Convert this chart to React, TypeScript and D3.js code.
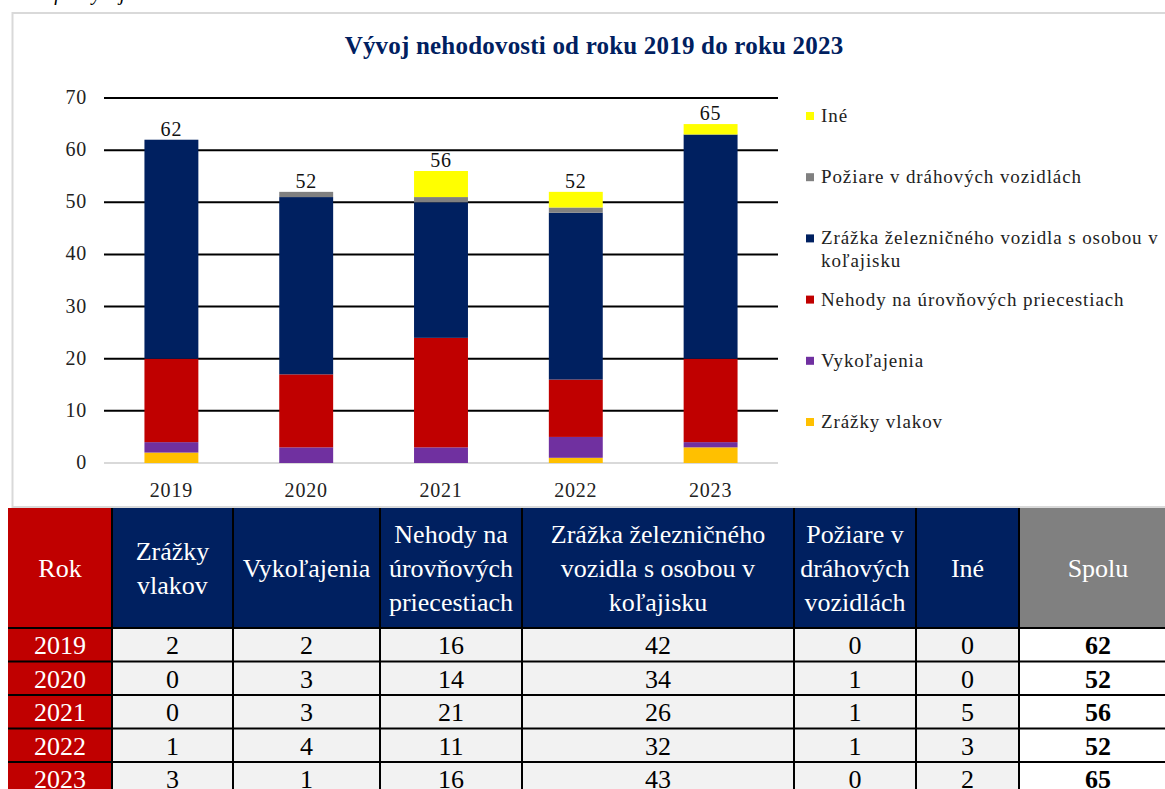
import { useEffect, useRef } from 'react';
import * as d3 from 'd3';

const years = ['2019', '2020', '2021', '2022', '2023'];
const zrazkyVlakov = [2, 0, 0, 1, 3];
const vykolajenia = [2, 3, 3, 4, 1];
const nehodyPriecestia = [16, 14, 21, 11, 16];
const zrazkaOsoba = [42, 34, 26, 32, 43];
const poziare = [0, 1, 1, 1, 0];
const ine = [0, 0, 5, 3, 2];
const yTicks = [0, 10, 20, 30, 40, 50, 60, 70];

const seriesNames = [
    'Zrážky vlakov',
    'Vykoľajenia',
    'Nehody na úrovňových priecestiach',
    'Zrážka železničného vozidla s osobou v koľajisku',
    'Požiare v dráhových vozidlách',
    'Iné',
];
const seriesValues = [zrazkyVlakov, vykolajenia, nehodyPriecestia, zrazkaOsoba, poziare, ine];
const seriesColors = ['#FFC000', '#7030A0', '#C00000', '#002060', '#808080', '#FFFF00'];

// legend labels (top to bottom), possibly wrapped
const legendLines = [
    ['Iné'],
    ['Požiare v dráhových vozidlách'],
    ['Zrážka železničného vozidla s osobou v', 'koľajisku'],
    ['Nehody na úrovňových priecestiach'],
    ['Vykoľajenia'],
    ['Zrážky vlakov'],
];

const headerLines = [
    ['Rok'],
    ['Zrážky', 'vlakov'],
    ['Vykoľajenia'],
    ['Nehody na', 'úrovňových', 'priecestiach'],
    ['Zrážka železničného', 'vozidla s osobou v', 'koľajisku'],
    ['Požiare v', 'dráhových', 'vozidlách'],
    ['Iné'],
    ['Spolu'],
];

const FONT = '"Liberation Serif", "Times New Roman", serif';

export default function App() {
    const svgRef = useRef<SVGSVGElement | null>(null);

    useEffect(() => {
        const W = 1165;
        const H = 789;
        const svg = d3.select(svgRef.current).attr('width', W).attr('height', H);
        svg.selectAll('*').remove();

        svg.append('rect').attr('width', W).attr('height', H).attr('fill', '#fff');

        // caption above the chart, cut off by the top edge
        svg.append('text')
            .attr('x', 22)
            .attr('y', 0)
            .style('font-family', FONT)
            .style('font-style', 'italic')
            .style('font-size', '20px')
            .text('Graf 1 Vývoj nehodovosti');

        // chart frame
        svg.append('rect')
            .attr('x', 12.5)
            .attr('y', 13)
            .attr('width', 1200)
            .attr('height', 494)
            .attr('fill', '#fff')
            .attr('stroke', '#d9d9d9')
            .attr('stroke-width', 2);

        // title
        svg.append('text')
            .attr('x', 594)
            .attr('y', 54)
            .attr('text-anchor', 'middle')
            .style('font-family', FONT)
            .style('font-weight', 'bold')
            .style('font-size', '25px')
            .style('letter-spacing', '0.2px')
            .attr('fill', '#002060')
            .text('Vývoj nehodovosti od roku 2019 do roku 2023');

        // plot area
        const x0 = 104;
        const x1 = 778;
        const x = d3.scaleBand().domain(years).range([x0, x1]).paddingInner(0.6).paddingOuter(0.3);
        const y = d3.scaleLinear().domain([0, 70]).range([463, 98]);

        // gridlines
        svg.append('g')
            .selectAll('line')
            .data(yTicks)
            .enter()
            .append('line')
            .attr('x1', x0)
            .attr('x2', x1)
            .attr('y1', (d) => y(d))
            .attr('y2', (d) => y(d))
            .attr('stroke', (d) => (d === 0 ? '#d9d9d9' : '#000'))
            .attr('stroke-width', 2);

        const axisText = (sel: any) =>
            sel
                .style('font-family', FONT)
                .style('font-size', '20px')
                .style('letter-spacing', '0.8px')
                .attr('fill', '#222');

        // y tick labels
        svg.append('g')
            .selectAll('text')
            .data(yTicks)
            .enter()
            .append('text')
            .attr('x', 87)
            .attr('y', (d) => y(d) + 6)
            .attr('text-anchor', 'end')
            .call(axisText)
            .text((d) => d);

        // x labels
        svg.append('g')
            .selectAll('text')
            .data(years)
            .enter()
            .append('text')
            .attr('x', (d) => (x(d) as number) + x.bandwidth() / 2)
            .attr('y', 497)
            .attr('text-anchor', 'middle')
            .call(axisText)
            .text((d) => d);

        // stacked bars
        const rows = years.map((yr, i) => {
            const r: Record<string, number | string> = { year: yr };
            seriesNames.forEach((s, k) => (r[s] = seriesValues[k][i]));
            return r;
        });
        const stacked = d3.stack<Record<string, number | string>>().keys(seriesNames)(rows as any);

        stacked.forEach((layer, k) => {
            svg.append('g')
                .selectAll('rect')
                .data(layer)
                .enter()
                .append('rect')
                .attr('x', (d) => x(d.data.year as string) as number)
                .attr('width', x.bandwidth())
                .attr('y', (d) => y(d[1]))
                .attr('height', (d) => y(d[0]) - y(d[1]))
                .attr('fill', seriesColors[k]);
        });

        // totals
        const totals = years.map((_, i) => d3.sum(seriesValues, (s) => s[i]));
        svg.append('g')
            .selectAll('text')
            .data(totals)
            .enter()
            .append('text')
            .attr('x', (_, i) => (x(years[i]) as number) + x.bandwidth() / 2)
            .attr('y', (d) => y(d) - 4)
            .attr('text-anchor', 'middle')
            .call(axisText)
            .attr('fill', '#111')
            .text((d) => d);

        // legend
        const legendColors = seriesColors.slice().reverse();
        const legendY = d3.scaleLinear().domain([0, 5]).range([116, 422]);
        legendLines.forEach((lines, i) => {
            const cy = legendY(i);
            svg.append('rect')
                .attr('x', 806)
                .attr('y', cy - 4)
                .attr('width', 8)
                .attr('height', 8)
                .attr('fill', legendColors[i]);
            lines.forEach((line, j) => {
                svg.append('text')
                    .attr('x', 821)
                    .attr('y', cy + 6 + j * 23)
                    .style('font-family', FONT)
                    .style('font-size', '19px')
                    .style('letter-spacing', '0.9px')
                    .attr('fill', '#222')
                    .text(line);
            });
        });

        // table
        const colEdges = [8, 112, 233, 380, 522, 794, 916, 1019, 1177];
        const headTop = 508;
        const headBottom = 628;
        const rowY = d3.scaleLinear().domain([0, 5]).range([headBottom, headBottom + 5 * 33.5]);
        const headFill = (c: number) => (c === 0 ? '#C00000' : c === 7 ? '#808080' : '#002060');

        const table = svg.append('g');
        headerLines.forEach((lines, c) => {
            table.append('rect')
                .attr('x', colEdges[c])
                .attr('y', headTop)
                .attr('width', (c === 7 ? W : colEdges[c + 1]) - colEdges[c])
                .attr('height', headBottom - headTop)
                .attr('fill', headFill(c));
            const cx = (colEdges[c] + colEdges[c + 1]) / 2;
            const mid = (headTop + headBottom) / 2;
            lines.forEach((line, j) => {
                table.append('text')
                    .attr('x', cx)
                    .attr('y', mid + (j - (lines.length - 1) / 2) * 34 + 9)
                    .attr('text-anchor', 'middle')
                    .style('font-family', FONT)
                    .style('font-size', '26px')
                    .attr('fill', '#fff')
                    .text(line);
            });
        });

        years.forEach((yr, i) => {
            const cells = [yr, ...seriesValues.map((s) => String(s[i])), String(totals[i])];
            cells.forEach((val, c) => {
                table.append('rect')
                    .attr('x', colEdges[c])
                    .attr('y', rowY(i))
                    .attr('width', (c === 7 ? W : colEdges[c + 1]) - colEdges[c])
                    .attr('height', rowY(i + 1) - rowY(i))
                    .attr('fill', c === 0 ? '#C00000' : c === 7 ? '#ffffff' : '#F2F2F2');
                table.append('text')
                    .attr('x', (colEdges[c] + colEdges[c + 1]) / 2)
                    .attr('y', rowY(i) + 26)
                    .attr('text-anchor', 'middle')
                    .style('font-family', FONT)
                    .style('font-size', '26px')
                    .style('font-weight', c === 7 ? 'bold' : 'normal')
                    .attr('fill', c === 0 ? '#fff' : '#000')
                    .text(val);
            });
        });

        // table borders
        const tableBottom = rowY(5);
        colEdges.slice(1, -1).forEach((cx) => {
            table.append('line')
                .attr('x1', cx)
                .attr('x2', cx)
                .attr('y1', headTop)
                .attr('y2', tableBottom)
                .attr('stroke', '#000')
                .attr('stroke-width', 2);
        });
        d3.range(0, 6).forEach((i) => {
            table.append('line')
                .attr('x1', colEdges[0])
                .attr('x2', W)
                .attr('y1', rowY(i))
                .attr('y2', rowY(i))
                .attr('stroke', '#000')
                .attr('stroke-width', 2);
        });
    }, []);

    return (
        <svg
            ref={svgRef}
            style={{ position: 'absolute', left: 0, top: 0, display: 'block' }}
        ></svg>
    );
}
